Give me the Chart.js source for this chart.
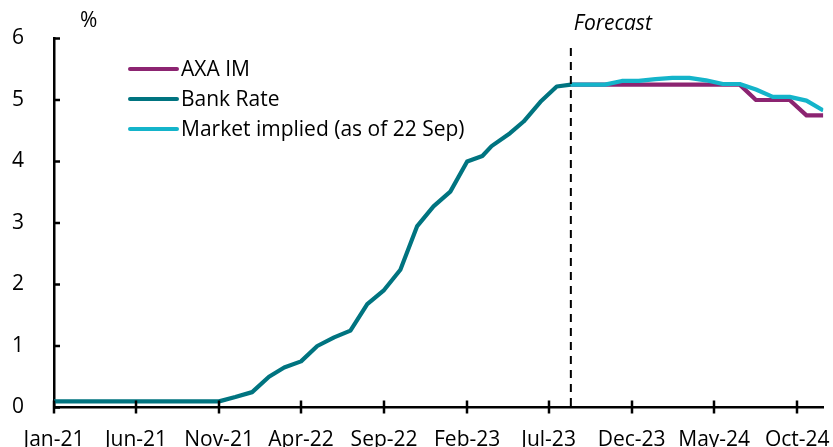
<!DOCTYPE html>
<html><head><meta charset="utf-8">
<script src="https://cdn.jsdelivr.net/npm/chart.js@4"></script>
<style>html,body{margin:0;padding:0;background:#fff}#wrap{width:833px;height:447px}</style>
</head><body><div id="wrap"><canvas id="c" width="833" height="447"></canvas></div>
<script>
// ---- data ----
const tickLabels = ['Jan-21','Jun-21','Nov-21','Apr-22','Sep-22','Feb-23','Jul-23','Dec-23','May-24','Oct-24'];
const tickDates  = ['2021-01-01','2021-06-01','2021-11-01','2022-04-01','2022-09-01','2023-02-01','2023-07-01','2023-12-01','2024-05-01','2024-10-01'];
const yTicks = [0,1,2,3,4,5,6];

const bankRateDates = ['2021-01-01','2021-02-01','2021-03-01','2021-04-01','2021-05-01','2021-06-01','2021-07-01','2021-08-01','2021-09-01','2021-10-01','2021-11-01','2021-12-01',
  '2022-01-01','2022-02-01','2022-03-01','2022-04-01','2022-05-01','2022-06-01','2022-07-01','2022-08-01','2022-09-01','2022-10-01','2022-11-01','2022-12-01',
  '2023-01-01','2023-02-01','2023-03-01','2023-03-18','2023-04-21','2023-05-16','2023-06-16','2023-07-16','2023-08-11'];
const bankRateValues = [0.1,0.1,0.1,0.1,0.1,0.1,0.1,0.1,0.1,0.1,0.1,0.17,
  0.25,0.5,0.65,0.75,1.0,1.14,1.25,1.68,1.91,2.24,2.95,3.27,
  3.51,4.0,4.09,4.25,4.46,4.65,4.97,5.22,5.25];

const forecastDates = ['2023-08-11','2023-09-12','2023-10-13','2023-11-13','2023-12-14','2024-01-14','2024-02-14','2024-03-16',
  '2024-04-16','2024-05-17','2024-06-17','2024-07-17','2024-08-17','2024-09-17','2024-10-18','2024-11-18'];
const axaValues    = [5.25,5.25,5.25,5.25,5.25,5.25,5.25,5.25,5.25,5.25,5.25,5.0,5.0,5.0,4.75,4.75];
const marketValues = [5.25,5.25,5.25,5.31,5.31,5.34,5.36,5.36,5.32,5.26,5.26,5.17,5.05,5.05,4.99,4.83];
const forecastStart = '2023-08-11';

const seriesNames = ['AXA IM','Bank Rate','Market implied (as of 22 Sep)'];
const seriesColors = ['#8C2471','#007480','#14B4CA'];

// ---- helpers ----
const BASE = Date.UTC(2021,0,1);
function dayNum(s){ const [y,m,d]=s.split('-').map(Number); return (Date.UTC(y,m-1,d)-BASE)/86400000; }
function pts(dates, vals){ return dates.map((d,i)=>({x:dayNum(d), y:vals[i]})); }

const FONT = '"Open Sans"';
const FS = 21;

const decorPlugin = {
  id:'decor',
  afterDraw(chart){
    const ctx = chart.ctx, xs = chart.scales.x, ys = chart.scales.y, ca = chart.chartArea;
    ctx.save();
    // tick marks
    ctx.strokeStyle = '#000'; ctx.lineWidth = 2.5;
    xs.ticks.forEach(t=>{
      const px = Math.round(xs.getPixelForValue(t.value));
      ctx.beginPath(); ctx.moveTo(px, ca.bottom-7); ctx.lineTo(px, ca.bottom+6); ctx.stroke();
    });
    ys.ticks.forEach(t=>{
      const py = ys.getPixelForValue(t.value);
      ctx.beginPath(); ctx.moveTo(ca.left, py); ctx.lineTo(ca.left+6, py); ctx.stroke();
    });
    // forecast dashed line
    const fx = xs.getPixelForValue(dayNum(forecastStart));
    ctx.setLineDash([8,6]); ctx.lineWidth = 2; ctx.strokeStyle = '#000';
    ctx.beginPath(); ctx.moveTo(fx, 48); ctx.lineTo(fx, ca.bottom); ctx.stroke();
    ctx.setLineDash([]);
    ctx.fillStyle = '#000'; ctx.textBaseline = 'middle'; ctx.textAlign = 'left';
    ctx.font = 'italic ' + FS + 'px ' + FONT;
    ctx.fillText('Forecast', fx + 3, 24);
    ctx.font = FS + 'px ' + FONT;
    ctx.fillText('%', 80, 21);
    // legend
    chart.data.datasets.forEach((ds,i)=>{
      const y = 69 + i*30;
      ctx.strokeStyle = ds.borderColor; ctx.lineWidth = 4; ctx.lineCap = 'round';
      ctx.beginPath(); ctx.moveTo(130, y); ctx.lineTo(177, y); ctx.stroke();
      ctx.fillStyle = '#000';
      ctx.fillText(ds.label, 181, y + 1.5);
    });
    ctx.restore();
  }
};

new Chart(document.getElementById('c'), {
  type:'line',
  data:{ datasets:[
    {label:seriesNames[0], data:pts(forecastDates, axaValues), borderColor:seriesColors[0], order:3},
    {label:seriesNames[1], data:pts(bankRateDates, bankRateValues), borderColor:seriesColors[1], order:2},
    {label:seriesNames[2], data:pts(forecastDates, marketValues), borderColor:seriesColors[2], order:1}
  ]},
  options:{
    responsive:false, animation:false, devicePixelRatio:1,
    layout:{padding:{top:38.5, right:9.7, left:0, bottom:0}},
    elements:{ line:{borderWidth:4.2, tension:0, borderJoinStyle:'round', fill:false}, point:{radius:0, hoverRadius:0} },
    plugins:{ legend:{display:false}, tooltip:{enabled:false} },
    scales:{
      x:{ type:'linear', min:0, max:dayNum(forecastDates[forecastDates.length-1]),
        grid:{display:false}, border:{display:true, color:'#000', width:2.5},
        afterBuildTicks(s){ s.ticks = tickDates.map(d=>({value:dayNum(d)})); },
        afterFit(s){ s.height = 39.5; s.paddingLeft = 0; s.paddingRight = 0; },
        ticks:{ autoSkip:false, maxRotation:0, padding:12, color:'#000', font:{family:'Open Sans', size:FS},
          callback:(v,i)=>tickLabels[i] }
      },
      y:{ min:0, max:6,
        grid:{display:false}, border:{display:true, color:'#000', width:2.5},
        afterBuildTicks(s){ s.ticks = yTicks.map(v=>({value:v})); },
        afterFit(s){ s.width = 54; s.paddingTop = 0; s.paddingBottom = 0; },
        ticks:{ padding:22, color:'#000', font:{family:'Open Sans', size:FS}, callback:(v)=>String(v) }
      }
    }
  },
  plugins:[decorPlugin]
});
</script></body></html>
